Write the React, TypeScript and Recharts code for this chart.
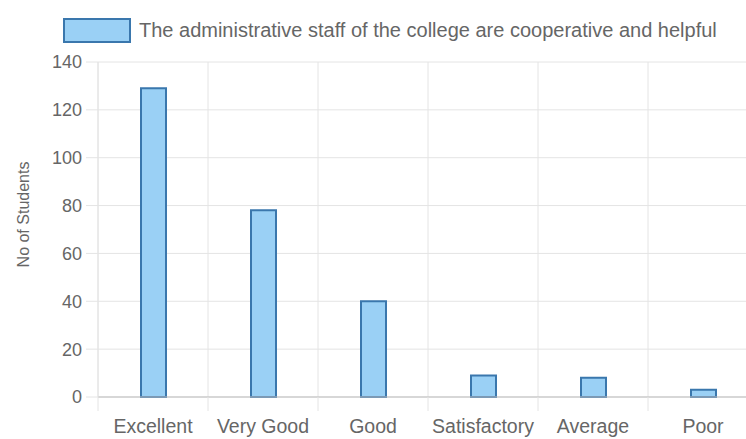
import { Bar, BarChart, CartesianGrid, Legend, XAxis, YAxis } from "recharts";

const ratings = ["Excellent", "Very Good", "Good", "Satisfactory", "Average", "Poor"];
const students = [129, 78, 40, 9, 8, 3];
const yTicks = [0, 20, 40, 60, 80, 100, 120, 140];
const seriesName = "The administrative staff of the college are cooperative and helpful";

const data = ratings.map((rating, i) => ({ rating, students: students[i] }));

const FONT = '"Liberation Sans", Arial, sans-serif';
const GRID = "#e4e4e4";
const FILL = "#9ad0f5";
const EDGE = "#3a77ad";

function CategoryTick(props: any) {
  const { x, y, payload } = props;
  const half = payload?.offset ?? 0;
  return (
    <g>
      {half > 0 && <line x1={x - half} x2={x - half} y1={y} y2={y + 14} stroke={GRID} />}
      <text x={x} y={y + 36} textAnchor="middle" fill="#666" fontSize={19.5}>
        {payload.value}
      </text>
    </g>
  );
}

function LegendContent() {
  return (
    <div style={{ display: "flex", alignItems: "center", fontFamily: FONT }}>
      <span
        style={{
          display: "inline-block",
          width: 64,
          height: 21,
          background: FILL,
          border: `2px solid ${EDGE}`,
        }}
      />
      <span style={{ marginLeft: 8, fontSize: 20, color: "#666", whiteSpace: "nowrap" }}>{seriesName}</span>
    </div>
  );
}

export default function App() {
  return (
    <div style={{ position: "absolute", left: 0, top: 0, width: 746, height: 439, overflow: "hidden", background: "#fff" }}>
      <BarChart
        width={770}
        height={439}
        data={data}
        margin={{ top: 62, right: 12, left: 0, bottom: 0 }}
        style={{ fontFamily: FONT }}
      >
        <CartesianGrid
          stroke={GRID}
          verticalCoordinatesGenerator={({ offset }: any) =>
            ratings.map((_, i) => offset.left + (i * offset.width) / ratings.length)
          }
        />
        <XAxis
          dataKey="rating"
          height={42}
          tickLine={false}
          tickSize={0}
          tickMargin={0}
          axisLine={{ stroke: "#bdbdbd" }}
          tick={<CategoryTick />}
          interval={0}
        />
        <YAxis
          width={98}
          domain={[0, 140]}
          ticks={yTicks}
          tickSize={12}
          tickMargin={4}
          tickLine={{ stroke: GRID }}
          axisLine={{ stroke: GRID }}
          tick={{ fill: "#666", fontSize: 18 }}
          label={{
            content: ({ viewBox }: any) => {
              const cx = 23;
              const cy = viewBox.y + viewBox.height / 2 - 15;
              return (
                <text
                  x={cx}
                  y={cy}
                  transform={`rotate(-90, ${cx}, ${cy})`}
                  textAnchor="middle"
                  dominantBaseline="central"
                  fill="#666"
                  fontSize={16}
                >
                  No of Students
                </text>
              );
            },
          }}
        />
        <Legend
          layout="horizontal"
          verticalAlign="middle"
          align="center"
          content={<LegendContent />}
          wrapperStyle={{ top: 18, left: 63, width: "auto", height: "auto" }}
        />
        <Bar
          dataKey="students"
          name={seriesName}
          fill={FILL}
          stroke={EDGE}
          strokeWidth={2}
          barSize={25}
          isAnimationActive={false}
        />
      </BarChart>
    </div>
  );
}
